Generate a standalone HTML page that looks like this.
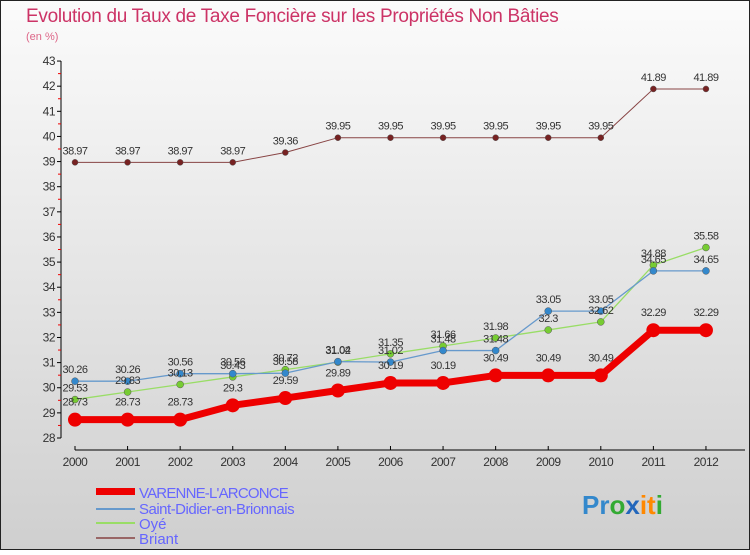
<!DOCTYPE html>
<html><head><meta charset="utf-8"><style>
body{margin:0;width:750px;height:550px;overflow:hidden;font-family:"Liberation Sans",sans-serif}
</style></head><body>
<svg id="c" width="750" height="550" xmlns="http://www.w3.org/2000/svg">
<defs><linearGradient id="bg" x1="0" y1="0" x2="0" y2="1"><stop offset="0" stop-color="#fbfbfb"/><stop offset="1" stop-color="#cfcfcf"/></linearGradient></defs>
<rect x="0.5" y="0.5" width="749" height="549" fill="url(#bg)" stroke="#222"/>
<text x="26" y="22" font-size="19" fill="#cc3366" letter-spacing="-0.3">Evolution du Taux de Taxe Foncière sur les Propriétés Non Bâties</text>
<text x="26" y="40" font-size="11" fill="#dd6688">(en %)</text>
<g id="axes"></g><g id="series"></g><g id="labels"></g>
<g font-size="15" fill="#6666ff">
<rect x="96" y="488" width="39" height="7" fill="#e00"/>
<text x="139" y="498" letter-spacing="-0.8">VARENNE-L'ARCONCE</text>
<rect x="96" y="508" width="39" height="2" fill="#6699cc"/>
<text x="139" y="514" letter-spacing="-0.5">Saint-Didier-en-Brionnais</text>
<rect x="96" y="522" width="39" height="2" fill="#99dd66"/>
<text x="139" y="529">Oyé</text>
<rect x="96" y="537" width="39" height="2" fill="#996666"/>
<text x="139" y="544">Briant</text>
</g>
<text x="582" y="514" font-size="26" font-weight="bold"><tspan fill="#3388cc">Pr</tspan><tspan fill="#33aa33">o</tspan><tspan fill="#2266bb">x</tspan><tspan fill="#ff8800">it</tspan><tspan fill="#33aa33">i</tspan></text>
</svg>
<script>
const years=[2000,2001,2002,2003,2004,2005,2006,2007,2008,2009,2010,2011,2012];
const yTicks=[28,29,30,31,32,33,34,35,36,37,38,39,40,41,42,43];
const varenne=[28.73,28.73,28.73,29.3,29.59,29.89,30.19,30.19,30.49,30.49,30.49,32.29,32.29];
const saintDidier=[30.26,30.26,30.56,30.56,30.58,31.04,31.02,31.48,31.48,33.05,33.05,34.65,34.65];
const oye=[29.53,29.83,30.13,30.43,30.72,31.02,31.35,31.66,31.98,32.3,32.62,34.88,35.58];
const briant=[38.97,38.97,38.97,38.97,39.36,39.95,39.95,39.95,39.95,39.95,39.95,41.89,41.89];
const NS="http://www.w3.org/2000/svg";
const x=i=>75+i*52.58;
const y=v=>438-(v-28)*25.13;
function mk(tag,attrs,parent,text){const e=document.createElementNS(NS,tag);for(const k in attrs)e.setAttribute(k,attrs[k]);if(text!==undefined)e.textContent=text;parent.appendChild(e);return e;}
const ax=document.getElementById('axes');
let e=mk('line',{x1:61,y1:y(43),x2:61,y2:y(28),stroke:'#000'},ax);


e=mk('line',{x1:75,y1:450,x2:745,y2:450,stroke:'#000'},ax);


yTicks.forEach(t=>{
  mk('line',{x1:57,y1:y(t),x2:61,y2:y(t),stroke:'#000'},ax);
  if(t<43) mk('line',{x1:58,y1:y(t+0.5),x2:61,y2:y(t+0.5),stroke:'#e00'},ax);
  const l=mk('text',{x:55,y:y(t)+4,'font-size':12,fill:'#333','text-anchor':'end','letter-spacing':'-0.5'},ax,String(t));
  
  
});
years.forEach((yr,i)=>{
  mk('line',{x1:x(i),y1:446,x2:x(i),y2:450,stroke:'#000'},ax);
  const l=mk('text',{x:x(i),y:466,'font-size':12,fill:'#333','text-anchor':'middle','letter-spacing':'-0.5'},ax,String(yr));
  
  
});
const sg=document.getElementById('series'),lg=document.getElementById('labels');
function series(name,vals,color,w,r,mcol,lab){
  const p=mk('polyline',{points:vals.map((v,i)=>x(i)+','+y(v)).join(' '),fill:'none',stroke:color,'stroke-width':w,'stroke-linejoin':'round'},sg);
  
  
  vals.forEach((v,i)=>{
    const c=mk('circle',{cx:x(i),cy:y(v),r:r,fill:mcol,stroke:'#555','stroke-width':r>4?0:0.5},sg);
    
    
    const t=mk('text',{x:x(i),y:y(v)+lab,'font-size':11,fill:'#333','text-anchor':'middle','letter-spacing':'-0.5'},lg,String(v));
    
    
  });
}
series('briant',briant,'#884444',1,3,'#772222',-8);
series('oye',oye,'#99dd66',1.3,3.5,'#77cc33',-8);
series('saint-didier',saintDidier,'#6699cc',1.3,3.5,'#3388cc',-8);
series('varenne',varenne,'#ee0000',7,7,'#ee0000',-14);
</script>
</body></html>
